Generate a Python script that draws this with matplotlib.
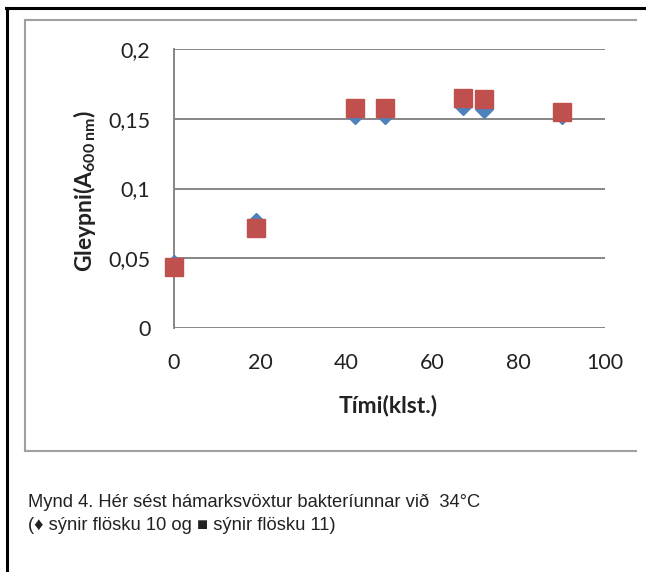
import matplotlib
matplotlib.use("Agg")
import matplotlib.pyplot as plt
from matplotlib.lines import Line2D
from matplotlib.ticker import FuncFormatter

# data
hours = [0, 19, 42, 49, 67, 72, 90]
flask10 = [0.046, 0.076, 0.153, 0.153, 0.159, 0.157, 0.153]   # diamonds
flask11 = [0.044, 0.072, 0.158, 0.158, 0.165, 0.164, 0.155]   # squares
xticks = [0, 20, 40, 60, 80, 100]
yticks = [0, 0.05, 0.1, 0.15, 0.2]

C_BLUE = "#4F81BD"
C_RED = "#C0504D"
C_GRID = "#868686"

W, H = 646, 572
fig = plt.figure(figsize=(W / 100, H / 100), dpi=100)

def px(x, y):
    return x / W, 1 - y / H

# page border (black) and chart frame (gray)
for (x0, y0), (x1, y1), c, lw in [((6, 8), (646, 8), "black", 2.2),
                                  ((7, 8), (7, 572), "black", 2.2),
                                  ((25, 20), (636, 20), "#A0A0A0", 1.5),
                                  ((25, 20), (25, 451), "#A0A0A0", 1.5),
                                  ((25, 451), (636, 451), "#A0A0A0", 1.5)]:
    a, b = px(x0, y0)
    c2, d = px(x1, y1)
    fig.add_artist(Line2D([a, c2], [b, d], color=c, lw=lw))

l, t = px(174, 49)
r, b = px(605, 328)
ax = fig.add_axes([l, b, r - l, t - b])
ax.set_xlim(0, 100)
ax.set_ylim(0, 0.2)
ax.set_xticks(xticks)
ax.set_yticks(yticks)
ax.yaxis.set_major_formatter(FuncFormatter(lambda v, p: ("%g" % v).replace(".", ",")))
ax.tick_params(length=0, labelsize=15.5, colors="#222")
ax.tick_params(axis="y", pad=17)
ax.tick_params(axis="x", pad=18)
for lab in ax.get_xticklabels() + ax.get_yticklabels():
    lab.set_family("Lato")
ax.grid(axis="y", color=C_GRID, lw=1.4)
ax.set_axisbelow(True)
for s in ["top", "right"]:
    ax.spines[s].set_visible(False)
ax.spines["bottom"].set_visible(False)
ax.spines["left"].set_color(C_GRID)
ax.spines["left"].set_linewidth(1.4)

ax.plot(hours, flask10, ls="none", marker="D", ms=9.5, color=C_BLUE, clip_on=False, zorder=3)
ax.plot(hours, flask11, ls="none", marker="s", ms=13.5, color=C_RED, clip_on=False, zorder=4)

fig.text(*px(388, 405), "Tími(klst.)", ha="center", va="center",
         fontsize=16.5, fontweight="bold", family="Lato", color="#222")
fig.text(*px(85, 191), r"Gleypni(A$_{\mathregular{600\,nm}}$)", ha="center", va="center",
         rotation=90, fontsize=16.5, fontweight="bold", family="Lato", color="#222")

fig.text(*px(28, 507), "Mynd 4. Hér sést hámarksvöxtur bakteríunnar við  34°C",
         ha="left", va="baseline", fontsize=13.2, family="Liberation Sans", color="#222")
fig.text(*px(28, 530), "(\u2666 sýnir flösku 10 og \u25A0 sýnir flösku 11)",
         ha="left", va="baseline", fontsize=13.2, family=["Liberation Sans", "DejaVu Sans"], color="#222")

fig.savefig("out.png", dpi=100)
